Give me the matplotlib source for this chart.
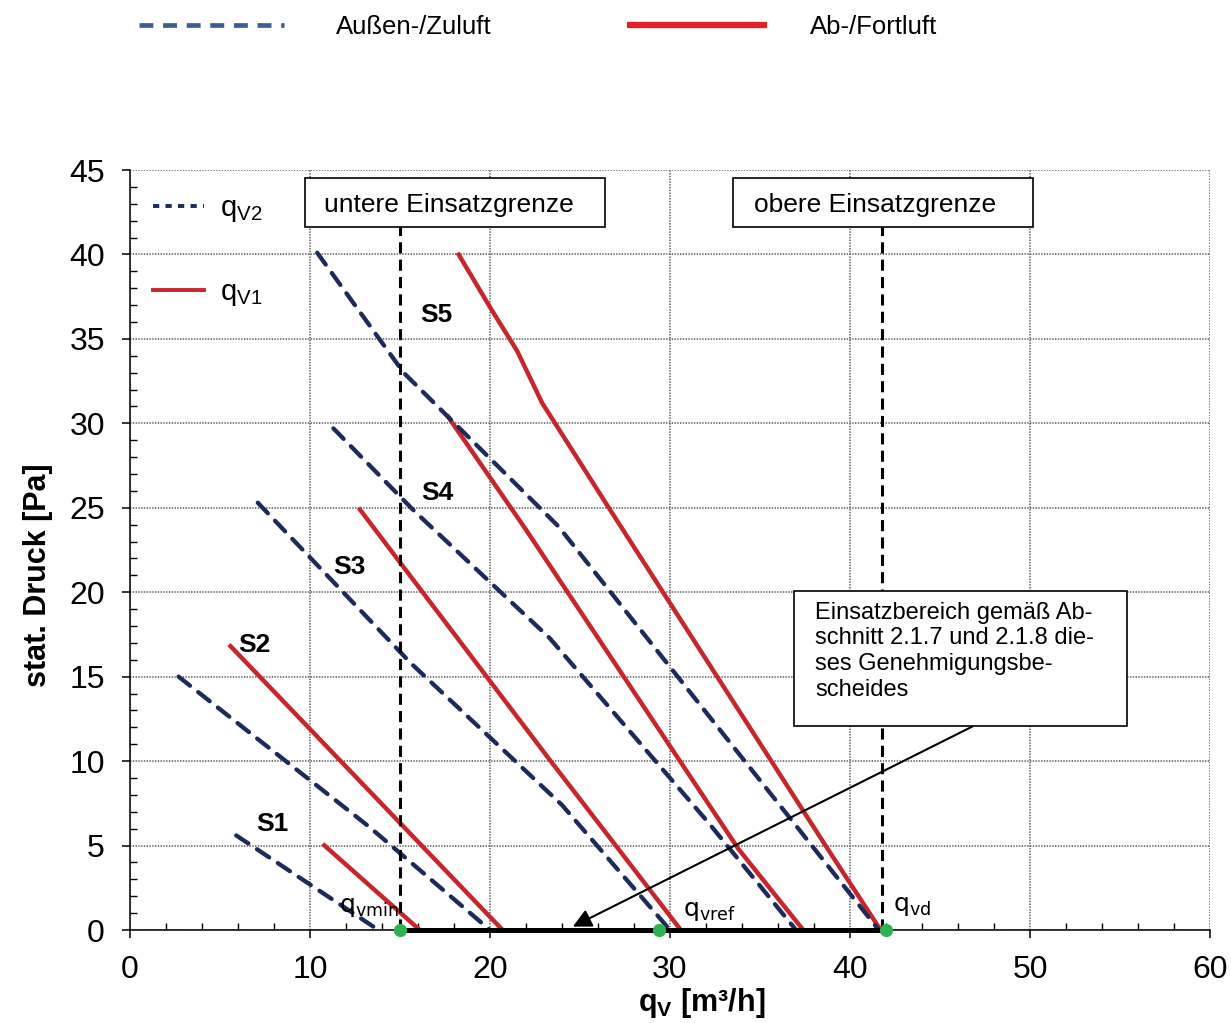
import matplotlib
matplotlib.use('Agg')
import matplotlib.pyplot as plt
from matplotlib.lines import Line2D
from matplotlib.patches import Rectangle
from matplotlib.ticker import MultipleLocator
from matplotlib import font_manager

names = {f.name for f in font_manager.fontManager.ttflist}
NARROW = 'Liberation Sans Narrow' if 'Liberation Sans Narrow' in names else 'Liberation Sans'
SANS = 'Liberation Sans'

plt.rcParams['font.family'] = [SANS, 'DejaVu Sans']
plt.rcParams['mathtext.fontset'] = 'custom'
plt.rcParams['mathtext.rm'] = SANS
plt.rcParams['mathtext.bf'] = NARROW + ':bold'
plt.rcParams['lines.scale_dashes'] = False

# ---------------- data ----------------
stages = ['S1', 'S2', 'S3', 'S4', 'S5']
stage_label_x = [7.9, 6.9, 12.2, 17.1, 17.0]
stage_label_y = [6.3, 16.9, 21.5, 25.9, 36.4]

# q_V2 (Außen-/Zuluft), dashed blue
qv2_x = [[5.9, 13.8],
         [2.7, 13.3, 20.0],
         [7.1, 15.6, 24.0, 30.0],
         [11.3, 15.8, 23.3, 32.1, 37.0],
         [10.4, 15.2, 23.8, 41.6]]
qv2_y = [[5.6, 0.0],
         [15.0, 6.1, 0.0],
         [25.3, 15.8, 7.4, 0.0],
         [29.7, 24.8, 17.3, 6.4, 0.0],
         [40.1, 33.0, 23.9, 0.0]]

# q_V1 (Ab-/Fortluft), solid red
qv1_x = [[10.7, 16.1],
         [5.5, 20.7],
         [12.7, 23.3, 30.6],
         [17.6, 22.0, 33.8, 37.4],
         [18.2, 20.1, 21.5, 22.9, 26.6, 38.7, 41.7]]
qv1_y = [[5.1, 0.0],
         [16.9, 0.0],
         [25.0, 10.1, 0.0],
         [30.5, 23.7, 4.8, 0.0],
         [40.1, 36.7, 34.3, 31.2, 25.0, 4.9, 0.0]]

q_min, q_ref, q_d = 15.0, 29.4, 42.0
limit_lower, limit_upper = 15.0, 41.8
limit_top = 41.6

x_ticks = [0, 10, 20, 30, 40, 50, 60]
y_ticks = [0, 5, 10, 15, 20, 25, 30, 35, 40, 45]

BLUE = '#1c2b5c'
RED = '#c8262c'
LEG_BLUE = '#3b5f95'
LEG_RED = '#e61e26'
GREEN = '#2fb34f'

fig = plt.figure(figsize=(12.31, 10.23), dpi=100)
ax = fig.add_axes([130/1231, 1-930/1023, 1080/1231, 760/1023])
ax.set_xlim(0, 60)
ax.set_ylim(0, 45)

ax.set_xticks(x_ticks)
ax.set_yticks(y_ticks)
ax.xaxis.set_minor_locator(MultipleLocator(2))
ax.yaxis.set_minor_locator(MultipleLocator(1))
ax.grid(True, which='major', color='#666666', linestyle=(0, (1, 1)), linewidth=1.2)
ax.set_axisbelow(True)
for s in ['top', 'right']:
    ax.spines[s].set_visible(False)
for s in ['left', 'bottom']:
    ax.spines[s].set_linewidth(1.1)
ax.tick_params(which='major', direction='out', length=6, width=1.1)
ax.tick_params(which='minor', direction='in', length=5, width=1.0)
ax.tick_params(axis='y', which='major', labelsize=23, pad=12)
ax.tick_params(axis='x', which='major', labelsize=23, pad=12)
for lab in ax.get_xticklabels():
    lab.set_fontfamily(NARROW)

# curves
for xs, ys in zip(qv1_x, qv1_y):
    ax.plot(xs, ys, color=RED, linewidth=3.2, zorder=3, solid_capstyle='butt')
for xs, ys in zip(qv2_x, qv2_y):
    ax.plot(xs, ys, color=BLUE, linewidth=3.1, dashes=(10.5, 7.5), zorder=4,
            dash_capstyle='round')

# stage labels
for name, lx, ly in zip(stages, stage_label_x, stage_label_y):
    ax.text(lx, ly, name, fontsize=19, fontweight='bold', ha='center', va='center', zorder=6)

# operating range on axis
ax.plot([q_min, q_d], [0, 0], color='black', linewidth=3.6, zorder=5, clip_on=False,
        solid_capstyle='butt')
ax.plot([q_min, q_ref, q_d], [0, 0, 0], linestyle='none', marker='o', markersize=8.5,
        color=GREEN, zorder=6, clip_on=False)

# limits
for xv in (limit_lower, limit_upper):
    ax.plot([xv, xv], [0, limit_top], color='black', linewidth=2.2, dashes=(8, 4.5), zorder=5)

ax.add_patch(Rectangle((9.72, 41.62), 16.67, 2.9, facecolor='white', edgecolor='black',
                       linewidth=1.2, zorder=7))
ax.text(17.7, 42.95, 'untere Einsatzgrenze', fontsize=19, ha='center', va='center', zorder=8)
ax.add_patch(Rectangle((33.5, 41.62), 16.67, 2.9, facecolor='white', edgecolor='black',
                       linewidth=1.2, zorder=7))
ax.text(41.4, 42.95, 'obere Einsatzgrenze', fontsize=19, ha='center', va='center', zorder=8)

# point labels
ax.text(11.6, 1.05, r'q$_{\mathregular{vmin}}$', fontsize=18, family='DejaVu Sans',
        ha='left', va='baseline', zorder=8)
ax.text(30.7, 0.85, r'q$_{\mathregular{vref}}$', fontsize=18, family='DejaVu Sans',
        ha='left', va='baseline', zorder=8)
ax.text(42.4, 1.15, r'q$_{\mathregular{vd}}$', fontsize=18, family='DejaVu Sans',
        ha='left', va='baseline', zorder=8)

# annotation box
ax.add_patch(Rectangle((36.9, 12.1), 18.5, 8.0, facecolor='white', edgecolor='black',
                       linewidth=1.2, zorder=7, clip_on=False))
ax.text(38.05, 19.45,
        'Einsatzbereich gemäß Ab-\nschnitt 2.1.7 und 2.1.8 die-\nses Genehmigungsbe-\nscheides',
        fontsize=17, ha='left', va='top', linespacing=1.23, zorder=8)
ax.annotate('', xy=(24.6, 0.2), xytext=(46.8, 12.05),
            arrowprops=dict(arrowstyle='-|>', color='black', lw=1.5, mutation_scale=28,
                            shrinkA=0, shrinkB=0), zorder=8)

# inner legend
h_v2 = Line2D([], [], color=BLUE, linewidth=2.8, dashes=(4.5, 4.5))
h_v1 = Line2D([], [], color=RED, linewidth=2.8)
ax.legend([h_v2, h_v1], [r'q$_{\mathregular{V2}}$', r'q$_{\mathregular{V1}}$'],
          loc='upper left', bbox_to_anchor=(0.0, 0.999), frameon=False, fontsize=21,
          handlelength=1.75, handletextpad=0.55, labelspacing=1.85, borderpad=0.3)

# top legend (two entries placed separately)
t_blue = Line2D([], [], color=LEG_BLUE, linewidth=3.4, dashes=(10, 7))
t_red = Line2D([], [], color=LEG_RED, linewidth=4.5, solid_capstyle='butt')
fig.legend([t_blue], ['Außen-/Zuluft'], loc='upper left',
           bbox_to_anchor=(139/1231, 1-15/1023), frameon=False, fontsize=18.5,
           handlelength=5.65, handletextpad=2.0, borderpad=0, borderaxespad=0)
fig.legend([t_red], ['Ab-/Fortluft'], loc='upper left',
           bbox_to_anchor=(627/1231, 1-15/1023), frameon=False, fontsize=18.5,
           handlelength=5.45, handletextpad=1.67, borderpad=0, borderaxespad=0)

# axis labels
fig.text(38/1231, 1-575/1023, 'stat. Druck [Pa]', rotation=90, fontsize=22,
         fontweight='bold', family=NARROW, ha='center', va='center')
fig.text(702/1231, 1-1003/1023, r'$\mathbf{q_{V}}$ [m³/h]', fontsize=22,
         fontweight='bold', family=NARROW, ha='center', va='center')

fig.savefig('out.png', dpi=100)
